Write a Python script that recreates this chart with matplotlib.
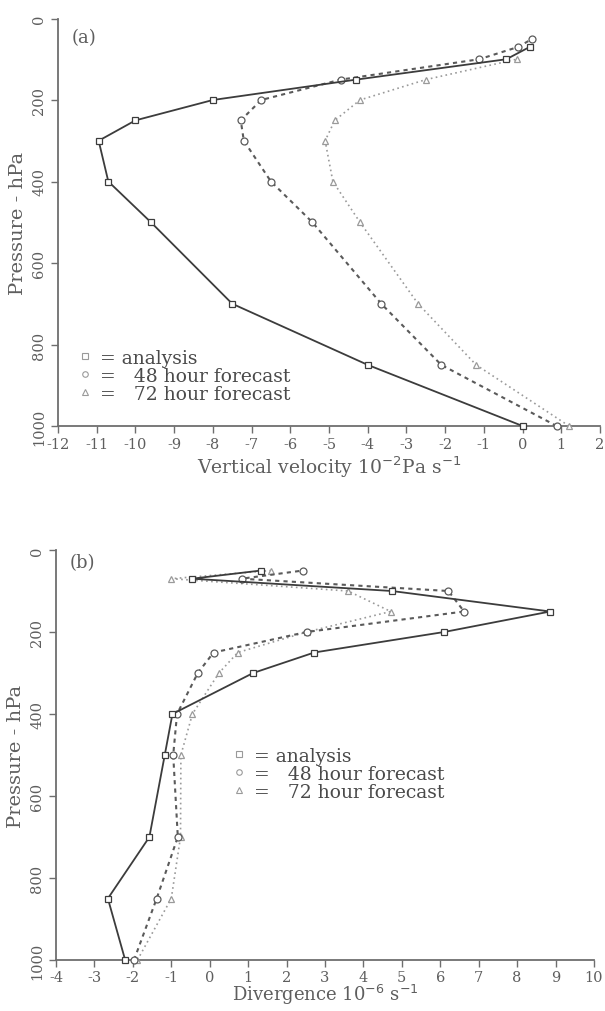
import matplotlib
matplotlib.use("Agg")
import matplotlib.pyplot as plt
from matplotlib.lines import Line2D

plt.rcParams['font.family'] = ['DejaVu Serif']
plt.rcParams['axes.unicode_minus'] = False

# ---------------- data: panel (a) vertical velocity (10^-2 Pa s^-1) ----------------
lev_ana_a = [1000, 850, 700, 500, 400, 300, 250, 200, 150, 100, 70]
ana_a = [0.0, -4.0, -7.5, -9.6, -10.7, -10.95, -10.0, -8.0, -4.3, -0.42, 0.18]

lev_f48_a = [1000, 850, 700, 500, 400, 300, 250, 200, 150, 100, 70, 50]
f48_a = [0.88, -2.1, -3.65, -5.43, -6.5, -7.2, -7.28, -6.75, -4.7, -1.12, -0.12, 0.25]

lev_f72_a = [1000, 850, 700, 500, 400, 300, 250, 200, 150, 100]
f72_a = [1.2, -1.2, -2.7, -4.2, -4.9, -5.1, -4.85, -4.2, -2.5, -0.15]

xticks_a = list(range(-12, 3))

# ---------------- data: panel (b) divergence (10^-6 s^-1) ----------------
lev_b = [1000, 850, 700, 500, 400, 300, 250, 200, 150, 100, 70, 50]
ana_b = [-2.2, -2.65, -1.57, -1.17, -0.97, 1.13, 2.72, 6.1, 8.86, 4.74, -0.46, 1.34]
f48_b = [-1.97, -1.38, -0.83, -0.95, -0.85, -0.31, 0.1, 2.52, 6.62, 6.21, 0.83, 2.43]
f72_b = [-1.88, -1.0, -0.76, -0.75, -0.45, 0.24, 0.73, 2.52, 4.71, 3.6, -1.0, 1.6]

xticks_b = list(range(-4, 11))
yticks = [0, 200, 400, 600, 800, 1000]

legend_labels = ['= analysis', '=   48 hour forecast', '=   72 hour forecast']

# ---------------- styling ----------------
C_ANA = '#3c3c3c'
C_48 = '#5a5a5a'
C_72 = '#9a9a9a'
C_AX = '#6e6e6e'
C_TXT = '#5e5e5e'

fig = plt.figure(figsize=(6.05, 10.12), dpi=100)
W, H = 605.0, 1012.0

ax1 = fig.add_axes([58 / W, 1 - 427 / H, (600 - 58) / W, (427 - 19.5) / H])
ax2 = fig.add_axes([56 / W, 1 - 961 / H, (594 - 56) / W, (961 - 551) / H])


def style(ax, xlim, xticks):
    ax.set_xlim(*xlim)
    ax.set_ylim(1000, 0)
    ax.set_xticks(xticks)
    ax.set_yticks(yticks)
    for s in ['top', 'right']:
        ax.spines[s].set_visible(False)
    for s in ['left', 'bottom']:
        ax.spines[s].set_color(C_AX)
        ax.spines[s].set_linewidth(1.3)
    ax.tick_params(axis='both', direction='out', length=5, width=1.0,
                   color=C_AX, labelcolor=C_TXT, labelsize=10.5)
    ax.tick_params(axis='x', pad=3)
    for lab in ax.get_yticklabels():
        lab.set_rotation(90)
        lab.set_va('center')
    ax.set_ylabel('Pressure - hPa', fontsize=14, color=C_TXT, labelpad=4)
    ax.patch.set_alpha(0)


def draw(ax, lev_a, xa, lev_48, x48, lev_72, x72):
    ax.plot(x72, lev_72, color=C_72, lw=1.2, ls=(0, (1, 2)), marker='^',
            ms=5, mfc='white', mec=C_72, mew=0.9, clip_on=False, zorder=3)
    ax.plot(x48, lev_48, color=C_48, lw=1.5, ls=(0, (2, 2)), marker='o',
            ms=5, mfc='white', mec=C_48, mew=0.9, clip_on=False, zorder=4)
    ax.plot(xa, lev_a, color=C_ANA, lw=1.3, ls='-', marker='s',
            ms=5, mfc='white', mec=C_ANA, mew=0.9, clip_on=False, zorder=5)


def add_legend(ax, anchor):
    handles = [
        Line2D([], [], ls='none', marker='s', ms=4, mfc='white', mec='#9a9a9a', mew=0.8),
        Line2D([], [], ls='none', marker='o', ms=4, mfc='white', mec='#9a9a9a', mew=0.8),
        Line2D([], [], ls='none', marker='^', ms=4, mfc='white', mec='#9a9a9a', mew=0.8),
    ]
    leg = ax.legend(handles, legend_labels, loc='upper left', bbox_to_anchor=anchor,
                    frameon=False, fontsize=13.5, handlelength=0.6, handletextpad=0.5,
                    labelspacing=0.0, borderaxespad=0, borderpad=0)
    for t in leg.get_texts():
        t.set_color('#4a4a4a')


# panel (a)
style(ax1, (-12, 2), xticks_a)
draw(ax1, lev_ana_a, ana_a, lev_f48_a, f48_a, lev_f72_a, f72_a)
ax1.set_xlabel('Vertical velocity 10$^{-2}$Pa s$^{-1}$', fontsize=13.5, color=C_TXT, labelpad=2)
ax1.text(0.025, 0.955, '(a)', transform=ax1.transAxes, fontsize=13, color=C_TXT,
         ha='left', va='center')
add_legend(ax1, (0.04, 0.19))

# panel (b)
style(ax2, (-4, 10), xticks_b)
ax2.tick_params(axis='x', pad=2)
draw(ax2, lev_b, ana_b, lev_b, f48_b, lev_b, f72_b)
ax2.set_xlabel('Divergence 10$^{-6}$ s$^{-1}$', fontsize=13, color=C_TXT, labelpad=-1)
ax2.text(0.025, 0.97, '(b)', transform=ax2.transAxes, fontsize=13, color=C_TXT,
         ha='left', va='center')
add_legend(ax2, (0.33, 0.52))

fig.savefig('out.png', dpi=100, facecolor='white')
